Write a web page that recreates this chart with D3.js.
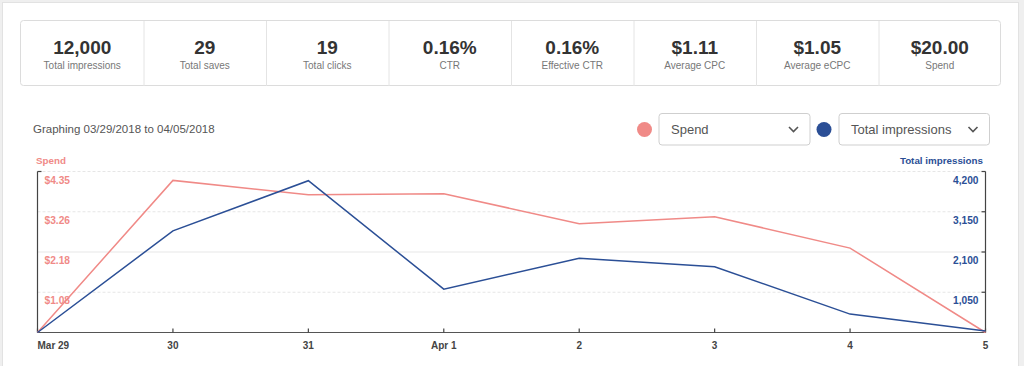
<!DOCTYPE html>
<html>
<head>
<meta charset="utf-8">
<script src="https://cdn.jsdelivr.net/npm/d3@7"></script>
<style>
  html, body { margin: 0; padding: 0; background: #efefef; }
  svg { display: block; font-family: "Liberation Sans", Arial, Helvetica, sans-serif; }
</style>
</head>
<body>
<svg id="chart" width="1024" height="366"></svg>
<script>
// ---- data ----
const statValues = ["12,000", "29", "19", "0.16%", "0.16%", "$1.11", "$1.05", "$20.00"];
const statLabels = ["Total impressions", "Total saves", "Total clicks", "CTR", "Effective CTR", "Average CPC", "Average eCPC", "Spend"];
const dates = ["Mar 29", "30", "31", "Apr 1", "2", "3", "4", "5"];
const spend = [0, 4.11, 3.72, 3.75, 2.94, 3.13, 2.28, 0];
const impressions = [0, 2650, 3960, 1130, 1935, 1715, 480, 40];
const spendTicks = [1.0875, 2.175, 3.2625, 4.35];
const spendTickLabels = ["$1.08", "$2.18", "$3.26", "$4.35"];
const impTicks = [1050, 2100, 3150, 4200];
const graphingText = "Graphing 03/29/2018 to 04/05/2018";
const series1Name = "Spend";
const series2Name = "Total impressions";

const salmon = "#f08a87";
const blue = "#2b4f96";

const svg = d3.select("#chart");

// card
svg.append("rect").attr("x", 2.5).attr("y", 2.5).attr("width", 1016).attr("height", 380)
  .attr("fill", "#fff").attr("stroke", "#e2e2e2");

// stats box
const sx = d3.scaleBand().domain(d3.range(statValues.length)).range([21, 1001]);
svg.append("rect").attr("x", 20.5).attr("y", 20.5).attr("width", 980).attr("height", 65)
  .attr("rx", 3).attr("fill", "#fff").attr("stroke", "#dcdcdc");
const cells = svg.append("g").selectAll("g").data(statValues).join("g")
  .attr("transform", (d, i) => `translate(${sx(i)},0)`);
cells.filter((d, i) => i > 0).append("line")
  .attr("x1", 0.5).attr("x2", 0.5).attr("y1", 21).attr("y2", 86).attr("stroke", "#e4e4e4");
cells.append("text").attr("x", sx.bandwidth() / 2).attr("y", 54).attr("text-anchor", "middle")
  .attr("font-size", 19).attr("font-weight", "bold").attr("fill", "#333").text(d => d);
cells.append("text").attr("x", sx.bandwidth() / 2).attr("y", 68.5).attr("text-anchor", "middle")
  .attr("font-size", 10).attr("fill", "#777").text((d, i) => statLabels[i]);

// graphing text
svg.append("text").attr("x", 33).attr("y", 133).attr("font-size", 11.5).attr("fill", "#555").text(graphingText);

// dropdowns
function dropdown(cx, x0, x1, label, color) {
  svg.append("circle").attr("cx", cx).attr("cy", 129.5).attr("r", 7.5).attr("fill", color);
  svg.append("rect").attr("x", x0 + 0.5).attr("y", 113.5).attr("width", x1 - x0).attr("height", 31.5)
    .attr("rx", 3).attr("fill", "#fff").attr("stroke", "#cfcfcf");
  svg.append("text").attr("x", x0 + 12.5).attr("y", 134).attr("font-size", 13).attr("fill", "#555").text(label);
  const chx = x1 - 16;
  svg.append("path").attr("d", `M${chx - 4.5},127 L${chx},131.5 L${chx + 4.5},127`)
    .attr("fill", "none").attr("stroke", "#555").attr("stroke-width", 1.6);
}
dropdown(644.5, 658.5, 809.5, series1Name, salmon);
dropdown(824, 838.5, 989, series2Name, blue);

// chart scales
const pLeft = 37.5, pRight = 985.5, pTop = 171.5, pBottom = 332.5;
const x = d3.scalePoint().domain(dates).range([pLeft, pRight]);
const yS = d3.scaleLinear().domain([0, 4.35]).range([pBottom, pTop]);
const yI = d3.scaleLinear().domain([0, 4200]).range([pBottom, pTop]);

// gridlines
svg.append("g").selectAll("line").data(impTicks).join("line")
  .attr("x1", pLeft).attr("x2", pRight).attr("y1", d => yI(d)).attr("y2", d => yI(d))
  .attr("stroke", (d, i) => i === 1 ? "#efefef" : "#e6e6e6")
  .attr("stroke-width", (d, i) => i === 1 ? 1.5 : 1)
  .attr("stroke-dasharray", (d, i) => i === 1 ? null : "3,2");

// left axis
const gl = svg.append("g").attr("transform", `translate(${pLeft},0)`);
gl.append("line").attr("y1", pTop).attr("y2", pBottom).attr("stroke", "#444").attr("stroke-width", 1.2);
gl.append("line").attr("x1", 0).attr("x2", 4).attr("y1", pTop).attr("y2", pTop).attr("stroke", "#444").attr("stroke-width", 1.2);
gl.selectAll("text.t").data(spendTicks).join("text").attr("class", "t")
  .attr("x", 7).attr("y", d => yS(d) + 12).attr("font-size", 10.2).attr("font-weight", "bold")
  .attr("fill", salmon).text((d, i) => spendTickLabels[i]);
svg.append("text").attr("x", 36).attr("y", 164).attr("font-size", 9.8).attr("font-weight", "bold")
  .attr("fill", salmon).text(series1Name);

// right axis
const gr = svg.append("g").attr("transform", `translate(${pRight},0)`);
gr.append("line").attr("y1", pTop).attr("y2", pBottom).attr("stroke", "#444").attr("stroke-width", 1.2);
gr.selectAll("line.tk").data(impTicks).join("line").attr("class", "tk")
  .attr("x1", -4).attr("x2", 0).attr("y1", d => yI(d)).attr("y2", d => yI(d)).attr("stroke", "#444").attr("stroke-width", 1.2);
gr.selectAll("text.t").data(impTicks).join("text").attr("class", "t")
  .attr("x", -7).attr("y", d => yI(d) + 12).attr("text-anchor", "end").attr("font-size", 10.2).attr("font-weight", "bold")
  .attr("fill", blue).text(d => d3.format(",")(d));
svg.append("text").attr("x", 983).attr("y", 164).attr("text-anchor", "end").attr("font-size", 9.8).attr("font-weight", "bold")
  .attr("fill", blue).text(series2Name);

// x axis
const gx = svg.append("g");
gx.append("line").attr("x1", pLeft).attr("x2", pRight).attr("y1", pBottom).attr("y2", pBottom).attr("stroke", "#555").attr("stroke-width", 1.2);
gx.selectAll("line.tk").data(dates).join("line").attr("class", "tk")
  .attr("x1", d => x(d)).attr("x2", d => x(d)).attr("y1", pBottom - 4).attr("y2", pBottom).attr("stroke", "#444").attr("stroke-width", 1.2);
gx.selectAll("text").data(dates).join("text")
  .attr("x", d => x(d)).attr("y", 348.5)
  .attr("text-anchor", (d, i) => i === 0 ? "start" : "middle")
  .attr("font-size", 10).attr("font-weight", "bold").attr("fill", "#444").text(d => d);

// lines
const lineS = d3.line().x((d, i) => x(dates[i])).y(d => yS(d));
const lineI = d3.line().x((d, i) => x(dates[i])).y(d => yI(d));
svg.append("path").datum(spend).attr("d", lineS).attr("fill", "none").attr("stroke", salmon).attr("stroke-width", 1.5);
svg.append("path").datum(impressions).attr("d", lineI).attr("fill", "none").attr("stroke", blue).attr("stroke-width", 1.5);
</script>
</body>
</html>
